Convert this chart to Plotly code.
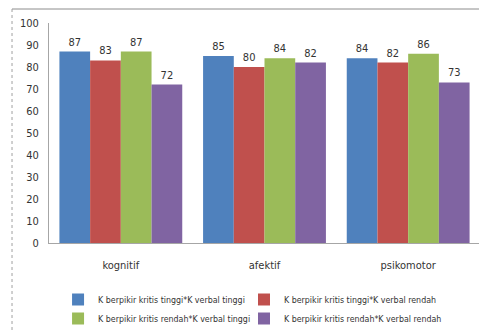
import plotly.graph_objects as go

categories = ["kognitif", "afektif", "psikomotor"]
series_names = [
    "K berpikir kritis tinggi*K verbal tinggi",
    "K berpikir kritis tinggi*K verbal rendah",
    "K berpikir kritis rendah*K verbal tinggi",
    "K berpikir kritis rendah*K verbal rendah",
]
s1 = [87, 85, 84]
s2 = [83, 80, 82]
s3 = [87, 84, 86]
s4 = [72, 82, 73]
colors = ["#4F81BD", "#C0504D", "#9BBB59", "#8064A2"]
legend_ids = ["legend", "legend2", "legend", "legend2"]
y_ticks = list(range(0, 101, 10))

FONT = "DejaVu Sans Condensed, sans-serif"
TXT = "#333333"

# the page body adds an 8px offset, so the figure is sized to the visible area
W, H = 479, 323

fig = go.Figure()
for name, vals, col, lg in zip(series_names, [s1, s2, s3, s4], colors, legend_ids):
    fig.add_trace(go.Bar(
        x=categories, y=vals, name=name, legend=lg,
        marker=dict(color=col, line=dict(width=0)),
        text=[str(v) for v in vals], textposition="outside",
        textfont=dict(family=FONT, size=11, color=TXT),
        cliponaxis=False,
    ))

leg_common = dict(
    orientation="v", xref="paper", yref="container",
    xanchor="left", yanchor="top",
    font=dict(family=FONT, size=8.8, color=TXT),
    tracegroupgap=0, itemwidth=30, traceorder="normal",
    bgcolor="rgba(0,0,0,0)", borderwidth=0,
)

fig.update_layout(
    width=W, height=H,
    margin=dict(l=41, r=7, t=15, b=88),
    paper_bgcolor="white", plot_bgcolor="white",
    barmode="group", bargap=0.145, bargroupgap=0,
    font=dict(family=FONT, size=11, color=TXT),
    showlegend=True,
    legend=dict(leg_common, x=0.021, y=1 - 277 / H),
    legend2=dict(leg_common, x=0.4524, y=1 - 277 / H),
    xaxis=dict(
        showline=True, linecolor="#A6A6A6", linewidth=1,
        showgrid=False, ticks="", ticklabelstandoff=12,
        tickfont=dict(family=FONT, size=11, color=TXT),
    ),
    yaxis=dict(
        range=[0, 100], tickvals=y_ticks, showline=True, linecolor="#A6A6A6",
        linewidth=1, showgrid=False, zeroline=False, ticks="",
        ticklabelstandoff=7, tickfont=dict(family=FONT, size=11, color=TXT),
    ),
    shapes=[
        dict(type="line", xref="paper", yref="paper", x0=-0.0858, x1=1.05,
             y0=1.0636, y1=1.0636, line=dict(color="#8C8C8C", width=1)),
        dict(type="line", xref="paper", yref="paper", x0=-0.0858, x1=-0.0858,
             y0=1.0636, y1=-0.5, line=dict(color="#A0A0A0", width=1, dash="dot")),
    ],
)

fig.write_html("out.html")
